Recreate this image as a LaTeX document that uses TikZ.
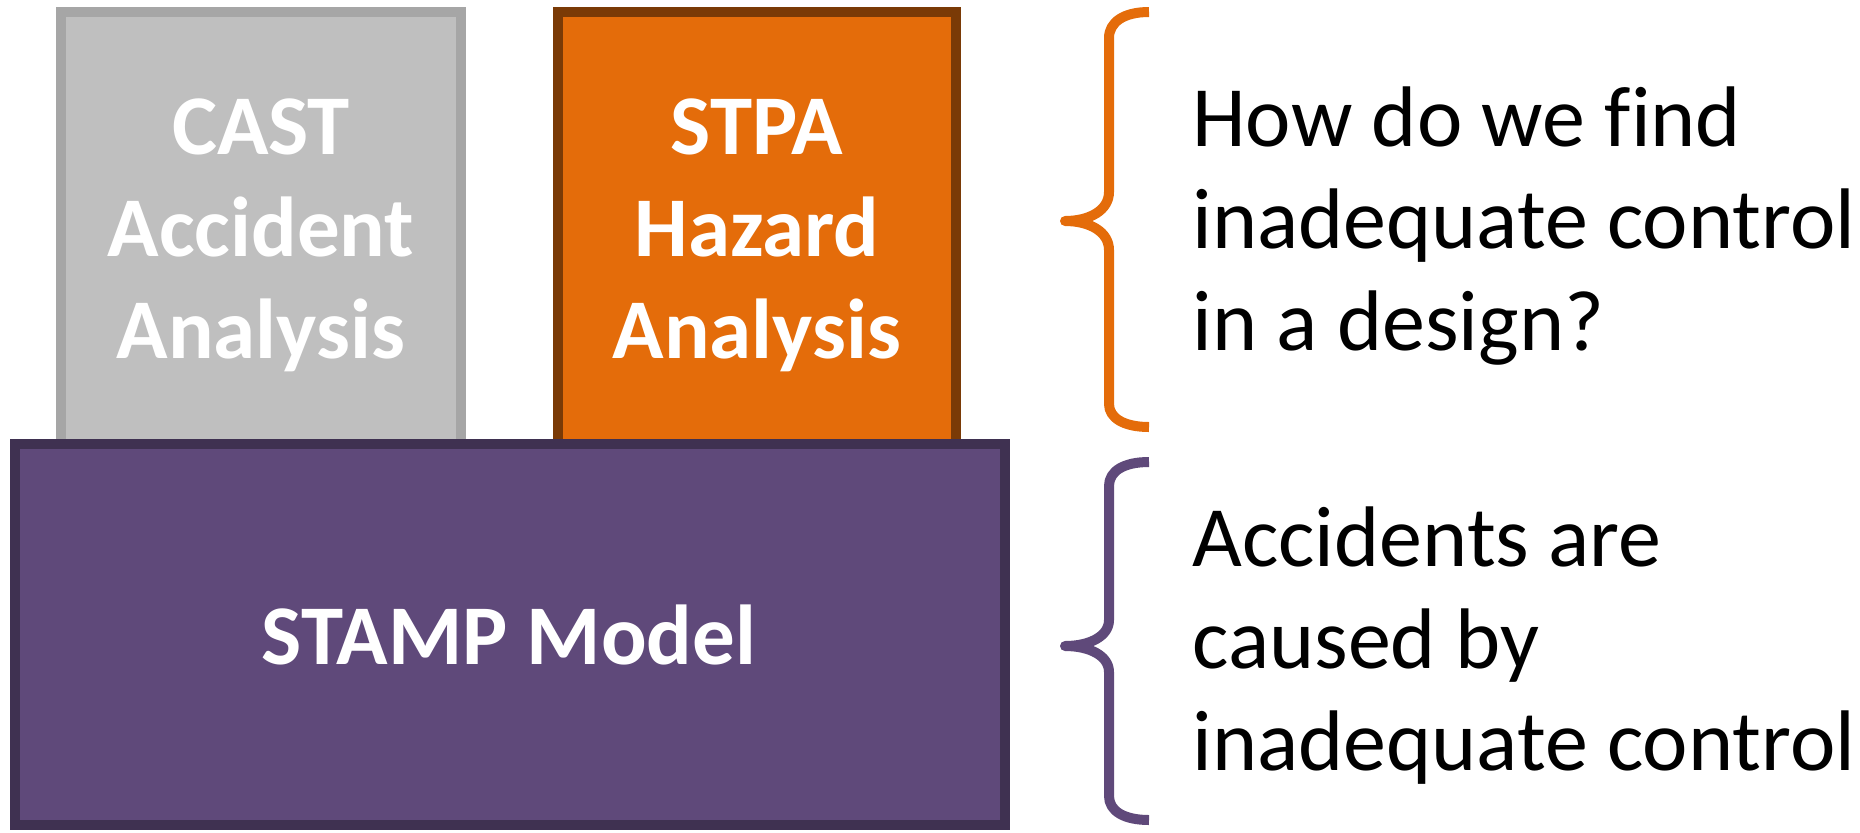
\documentclass[tikz,border=0pt]{standalone}
\usepackage{fontspec}
\setmainfont[Ligatures=CommonOff]{Carlito}
\definecolor{castfill}{HTML}{BFBFBF}
\definecolor{castline}{HTML}{A6A6A6}
\definecolor{stpafill}{HTML}{E46C0A}
\definecolor{stpaline}{HTML}{7A3A06}
\definecolor{stampfill}{HTML}{5F497A}
\definecolor{stampline}{HTML}{3F3151}
\tikzset{
  blk/.style={draw, line width=5pt, inner sep=0pt},
  boxtxt/.style={anchor=base, text=white, font=\fontsize{42.5}{51}\selectfont\bfseries, inner sep=0pt},
  sidetxt/.style={anchor=base west, text=black, font=\fontsize{43}{51}\selectfont, inner sep=0pt},
  brace/.style={line width=5pt, line cap=butt, line join=round}
}
\begin{document}
\begin{tikzpicture}[x=0.5pt, y=-0.5pt]
\useasboundingbox (0,0) rectangle (1860,832);
% upper boxes
\draw[blk, draw=castline, fill=castfill] (61,12) rectangle (461,444);
\draw[blk, draw=stpaline, fill=stpafill] (558,12) rectangle (956,444);
% base box
\draw[blk, draw=stampline, fill=stampfill] (14.5,444) rectangle (1004.5,825);
% box texts
\node[boxtxt] (c1) at (261,154) {CAST};
\node[boxtxt] (c2) at (261,256) {Accident};
\node[boxtxt] (c3) at (261,358) {Analysis};
\node[boxtxt] (s1) at (757,154) {STPA};
\node[boxtxt] (s2) at (757,256) {Hazard};
\node[boxtxt] (s3) at (757,358) {Analysis};
\node[boxtxt] (m1) at (509,664) {STAMP Model};
% braces
\draw[brace, draw=stpafill] (1149,12) .. controls (1124,12) and (1109,22) .. (1109,38)
  -- (1109,192) .. controls (1109,210) and (1090,221) .. (1065,221)
  .. controls (1090,221) and (1109,232) .. (1109,250)
  -- (1109,404) .. controls (1109,418) and (1124,427) .. (1149,427);
\draw[brace, draw=stampfill] (1149,462) .. controls (1124,462) and (1109,471) .. (1109,486)
  -- (1109,620) .. controls (1109,636) and (1090,646) .. (1065,646)
  .. controls (1090,646) and (1109,656) .. (1109,672)
  -- (1109,796) .. controls (1109,811) and (1124,820) .. (1149,820);
% side texts
\node[sidetxt] (q1) at (1192,146) {How do we find};
\node[sidetxt] (q2) at (1192,248) {inadequate control};
\node[sidetxt] (q3) at (1192,350) {in a design?};
\node[sidetxt] (a1) at (1192,566) {Accidents are};
\node[sidetxt] (a2) at (1192,668) {caused by};
\node[sidetxt] (a3) at (1192,770) {inadequate control};
\end{tikzpicture}
\end{document}
